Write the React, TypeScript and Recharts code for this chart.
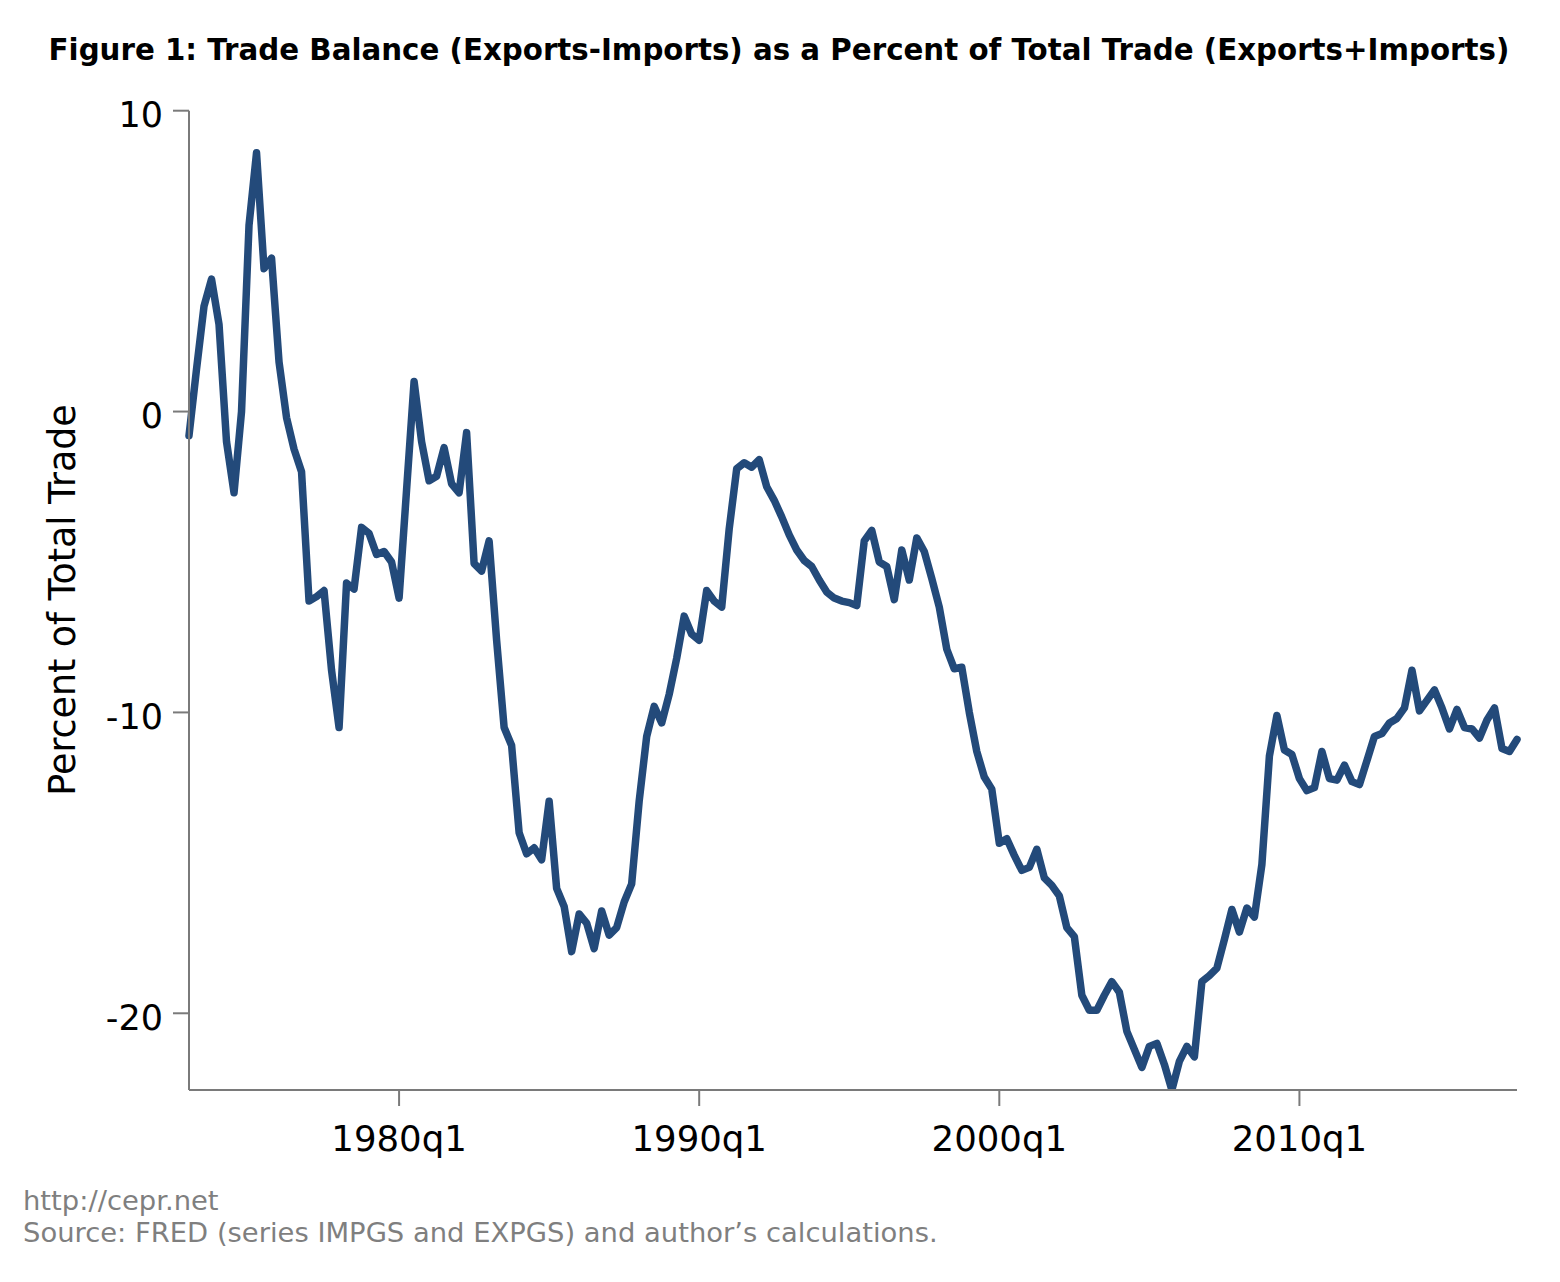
import React from 'react';
import { LineChart, Line, XAxis, YAxis } from 'recharts';

const START_YEAR = 1973;

// Trade balance as % of total trade, quarterly 1973q1 .. 2017q2
const BALANCE: number[] = [
  -0.8, 1.4, 3.5, 4.4, 2.9, -1.0, -2.7, 0.0, 6.2, 8.6,
  4.75, 5.1, 1.65, -0.2, -1.25, -2.0, -6.3, -6.15, -5.95, -8.6,
  -10.5, -5.7, -5.9, -3.85, -4.05, -4.75, -4.65, -5.0, -6.2, -2.6,
  1.0, -1.0, -2.3, -2.15, -1.2, -2.4, -2.7, -0.7, -5.05, -5.3,
  -4.3, -7.6, -10.5, -11.1, -14.0, -14.7, -14.5, -14.9, -12.95, -15.85,
  -16.45, -17.95, -16.7, -17.0, -17.85, -16.6, -17.4, -17.15, -16.3, -15.7,
  -12.95, -10.8, -9.8, -10.35, -9.4, -8.2, -6.8, -7.4, -7.6, -5.95,
  -6.3, -6.5, -3.9, -1.9, -1.7, -1.85, -1.6, -2.5, -2.95, -3.5,
  -4.1, -4.6, -4.95, -5.15, -5.6, -6.0, -6.2, -6.3, -6.35, -6.45,
  -4.3, -3.95, -5.0, -5.15, -6.25, -4.6, -5.6, -4.2, -4.65, -5.55,
  -6.5, -7.9, -8.55, -8.5, -10.0, -11.3, -12.15, -12.55, -14.35, -14.2,
  -14.75, -15.25, -15.15, -14.55, -15.5, -15.75, -16.1, -17.15, -17.45, -19.4,
  -19.9, -19.9, -19.4, -18.95, -19.3, -20.6, -21.2, -21.8, -21.1, -21.0,
  -21.7, -22.55, -21.6, -21.1, -21.45, -18.95, -18.75, -18.5, -17.55, -16.55,
  -17.3, -16.5, -16.8, -15.05, -11.45, -10.1, -11.25, -11.4, -12.2, -12.6,
  -12.5, -11.3, -12.2, -12.25, -11.75, -12.3, -12.4, -11.6, -10.8, -10.7,
  -10.35, -10.2, -9.85, -8.6, -9.95, -9.6, -9.25, -9.85, -10.55, -9.9,
  -10.5, -10.55, -10.85, -10.25, -9.85, -11.2, -11.3, -10.9,
];

const QUARTERS: string[] = BALANCE.map(
  (_, i) => `${START_YEAR + Math.floor(i / 4)}q${(i % 4) + 1}`
);

const X_TICK_LABELS = ['1980q1', '1990q1', '2000q1', '2010q1'];
const Y_TICKS = [-20, -10, 0, 10];

const TITLE =
  'Figure 1: Trade Balance (Exports-Imports) as a Percent of Total Trade (Exports+Imports)';
const Y_LABEL = 'Percent of Total Trade';
const NOTE_1 = 'http://cepr.net';
const NOTE_2 = 'Source: FRED (series IMPGS and EXPGS) and author\u2019s calculations.';

const data = BALANCE.map((v, i) => ({ idx: i, quarter: QUARTERS[i], value: v }));
const xTicks = X_TICK_LABELS.map((l) => QUARTERS.indexOf(l));
const yMin = Math.min(...BALANCE);

const FONT = "'DejaVu Sans', Verdana, sans-serif";
const AXIS_COLOR = '#7a7a7a';
const LINE_COLOR = '#234a7a';

export default function App() {
  const W = 1544;
  const H = 1266;
  return (
    <div style={{ position: 'relative', width: W, height: H, background: '#fff', fontFamily: FONT }}>
      <div style={{ position: 'absolute', left: 0, top: 0 }}>
        <LineChart
          width={W}
          height={1200}
          data={data}
          margin={{ top: 102.7, right: 35, left: 0, bottom: 38 }}
        >
          <XAxis
            dataKey="idx"
            type="number"
            domain={[0, BALANCE.length - 1]}
            ticks={xTicks}
            tickFormatter={(v: number) => QUARTERS[v]}
            height={80}
            tickSize={16}
            tickMargin={20}
            stroke={AXIS_COLOR}
            strokeWidth={2}
            tick={{ fill: '#000', fontSize: 35.5, fontFamily: FONT }}
            interval={0}
          />
          <YAxis
            type="number"
            domain={[yMin, 10]}
            ticks={Y_TICKS}
            width={181}
            tickSize={16}
            tickMargin={10}
            stroke={AXIS_COLOR}
            strokeWidth={2}
            tick={{ fill: '#000', fontSize: 35, fontFamily: FONT, dy: 4 }}
            interval={0}
            allowDataOverflow
          />
          <Line
            type="linear"
            dataKey="value"
            stroke={LINE_COLOR}
            strokeWidth={7.5}
            strokeLinejoin="round"
            strokeLinecap="round"
            dot={false}
            activeDot={false}
            isAnimationActive={false}
          />
        </LineChart>
      </div>
      <svg
        width={W}
        height={H}
        style={{ position: 'absolute', left: 0, top: 0, pointerEvents: 'none' }}
      >
        <text
          x={771}
          y={52}
          textAnchor="middle"
          fontFamily={FONT}
          fontWeight="bold"
          fontSize={29.3}
          fill="#000"
        >
          {TITLE}
        </text>
        <text
          x={0}
          y={0}
          transform="translate(67, 592) rotate(-90)"
          textAnchor="middle"
          fontFamily={FONT}
          fontSize={36.4}
          fill="#000"
        >
          {Y_LABEL}
        </text>
        <text x={15} y={1202} fontFamily={FONT} fontSize={27.4} fill="#7f7f7f">
          {NOTE_1}
        </text>
        <text x={15} y={1234} fontFamily={FONT} fontSize={27.4} fill="#7f7f7f">
          {NOTE_2}
        </text>
      </svg>
    </div>
  );
}
